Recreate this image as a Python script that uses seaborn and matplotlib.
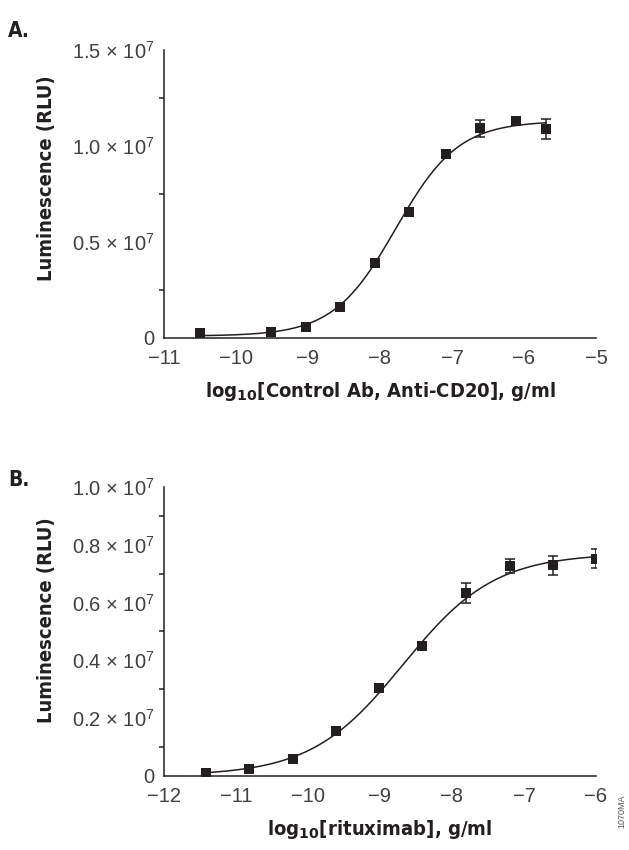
import numpy as np
import pandas as pd
import matplotlib
import matplotlib.pyplot as plt
import seaborn as sns
from matplotlib.ticker import MultipleLocator, FixedLocator

# ---- data ----
# Panel A: control Ab, Anti-CD20 (3-fold dilutions)
a_logconc = [-10.50, -9.51, -9.03, -8.56, -8.07, -7.60, -7.08, -6.61, -6.11, -5.69]
a_rlu = [0.026e7, 0.030e7, 0.059e7, 0.160e7, 0.392e7, 0.658e7, 0.957e7, 1.092e7, 1.130e7, 1.088e7]
a_err = [0, 0, 0, 0, 0, 0, 0, 0.045e7, 0.010e7, 0.052e7]
# fitted 4PL parameters (bottom, top, logEC50, hill)
a_fit = (0.01e7, 1.13e7, -7.78, 1.0)

# Panel B: rituximab (4-fold dilutions)
b_logconc = [-11.42, -10.82, -10.21, -9.61, -9.01, -8.41, -7.81, -7.19, -6.60, -6.00]
b_rlu = [0.010e7, 0.024e7, 0.057e7, 0.156e7, 0.303e7, 0.449e7, 0.634e7, 0.726e7, 0.729e7, 0.752e7]
b_err = [0, 0, 0, 0, 0, 0, 0.034e7, 0.025e7, 0.033e7, 0.034e7]
b_fit = (0.0, 0.77e7, -8.68, 0.68)

a_yticks = [0, 0.5e7, 1.0e7, 1.5e7]
a_ylabels = ['0', r'0.5 $\times$ 10$^7$', r'1.0 $\times$ 10$^7$', r'1.5 $\times$ 10$^7$']
b_yticks = [0, 0.2e7, 0.4e7, 0.6e7, 0.8e7, 1.0e7]
b_ylabels = ['0', r'0.2 $\times$ 10$^7$', r'0.4 $\times$ 10$^7$', r'0.6 $\times$ 10$^7$',
             r'0.8 $\times$ 10$^7$', r'1.0 $\times$ 10$^7$']

sns.set_theme(style="white")
plt.rcParams['mathtext.fontset'] = 'custom'
plt.rcParams['mathtext.rm'] = 'Liberation Sans'
plt.rcParams['mathtext.bf'] = 'DejaVu Sans:bold'
plt.rcParams['font.family'] = ['Liberation Sans', 'DejaVu Sans']

INK = '#231f20'
TICK_COL = '#404040'
LABEL_FONT = ['DejaVu Sans Condensed', 'DejaVu Sans']
LABEL_KW = dict(family=LABEL_FONT, fontstretch='condensed', fontweight='bold', color=INK)


def four_pl(x, p):
    bottom, top, ec50, hill = p
    return bottom + (top - bottom) / (1 + 10 ** ((ec50 - x) * hill))


def draw_panel(ax, xs, ys, errs, fit, xlim, ymax, ymajor, yminor, ylabels, xlabel, ylab_y):
    xx = np.linspace(min(xs), max(xs), 300)
    curve = pd.DataFrame({'x': xx, 'y': four_pl(xx, fit)})
    sns.lineplot(data=curve, x='x', y='y', ax=ax, color=INK, linewidth=1.1)
    ax.errorbar(xs, ys, yerr=errs, fmt='none', ecolor=INK, elinewidth=1.1,
                capsize=3.3, capthick=1.1, zorder=3)
    pts = pd.DataFrame({'x': xs, 'y': ys})
    sns.scatterplot(data=pts, x='x', y='y', ax=ax, marker='s', s=55,
                    color=INK, edgecolor=INK, linewidth=0, zorder=4)

    ax.set_xlim(*xlim)
    ax.set_ylim(0, ymax)
    ax.xaxis.set_major_locator(MultipleLocator(1))
    ax.yaxis.set_major_locator(FixedLocator(ymajor))
    ax.yaxis.set_minor_locator(MultipleLocator(yminor))
    ax.set_yticklabels(ylabels)
    sns.despine(ax=ax)
    for sp in ['left', 'bottom']:
        ax.spines[sp].set_color(INK)
        ax.spines[sp].set_linewidth(1.1)
    ax.tick_params(axis='both', which='major', direction='out', length=6,
                   width=1.1, color=INK, labelsize=14.5, labelcolor=TICK_COL, pad=1)
    ax.tick_params(axis='y', which='minor', direction='out', length=3.5,
                   width=1.1, color=INK, left=True)
    ax.tick_params(axis='x', which='major', pad=2)

    ax.set_ylabel('Luminescence (RLU)', fontsize=14.5, **LABEL_KW)
    ax.set_xlabel(xlabel, fontsize=14.5, **LABEL_KW)
    ax.yaxis.set_label_coords(-0.25, ylab_y)
    ax.xaxis.set_label_coords(0.5, -0.145)


fig = plt.figure(figsize=(6.29, 8.5), dpi=100)
ax1 = fig.add_axes([0.2607, 0.6024, 0.6868, 0.3388])
ax2 = fig.add_axes([0.2607, 0.0874, 0.6868, 0.3396])

draw_panel(ax1, a_logconc, a_rlu, a_err, a_fit, (-11, -5), 1.5e7,
           a_yticks, 0.25e7, a_ylabels,
           r'log$_\mathbf{10}$[Control Ab, Anti-CD20], g/ml', 0.556)
draw_panel(ax2, b_logconc, b_rlu, b_err, b_fit, (-12, -6), 1.0e7,
           b_yticks, 0.1e7, b_ylabels,
           r'log$_\mathbf{10}$[rituximab], g/ml', 0.539)

fig.text(0.013, 0.975, 'A.', fontsize=15, va='top', **LABEL_KW)
fig.text(0.013, 0.447, 'B.', fontsize=15, va='top', **LABEL_KW)
fig.text(0.988, 0.045, '1070MA', rotation=90, fontsize=6.5, color='#555555',
         ha='center', va='center')

plt.savefig('out.png', dpi=100)
